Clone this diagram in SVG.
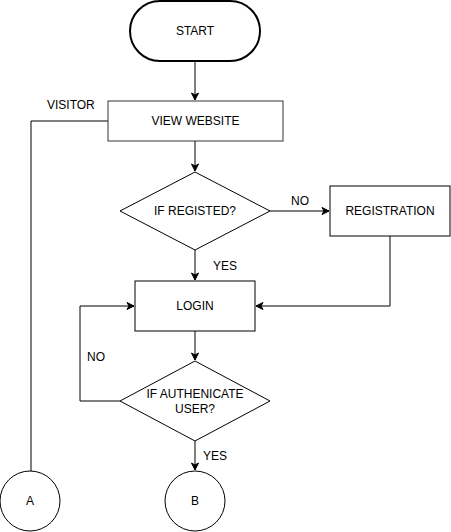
<svg xmlns="http://www.w3.org/2000/svg" width="451" height="532" viewBox="0 0 451 532">
<style>
.n{fill:#fff;stroke:#000;stroke-width:1}
.t{font-family:"Liberation Sans",Arial,sans-serif;font-size:12px;fill:#000;text-anchor:middle;dominant-baseline:central}
.l{font-family:"Liberation Sans",Arial,sans-serif;font-size:12px;fill:#000;dominant-baseline:central}
.c{fill:none;stroke:#000;stroke-width:1}
</style>
<defs>
<marker id="a" markerWidth="10" markerHeight="10" refX="8" refY="5" orient="auto" markerUnits="userSpaceOnUse">
<path d="M1,1.5 L8,5 L1,8.5 L3,5 Z" fill="#000" stroke="#000" stroke-width="1"/>
</marker>
</defs>
<rect width="451" height="532" fill="#fff"/>
<g id="connectors">
<path class="c" d="M195,61 V100" marker-end="url(#a)"/>
<path class="c" d="M108,121 H31 V471"/>
<path class="c" d="M195,141 V171" marker-end="url(#a)"/>
<path class="c" d="M270,211 H329" marker-end="url(#a)"/>
<path class="c" d="M195,250 V280" marker-end="url(#a)"/>
<path class="c" d="M390,236 V306 H256" marker-end="url(#a)"/>
<path class="c" d="M195,331 V360" marker-end="url(#a)"/>
<path class="c" d="M120,401 H80 V306 H134" marker-end="url(#a)"/>
<path class="c" d="M195,441 V470" marker-end="url(#a)"/>
<text class="l" x="47" y="105">VISITOR</text>
<text class="l" x="291" y="201">NO</text>
<text class="l" x="213" y="266">YES</text>
<text class="l" x="87" y="357">NO</text>
<text class="l" x="203" y="456">YES</text>
</g>
<g id="start">
<rect class="n" x="130" y="1" width="130" height="60" rx="30" ry="30" style="stroke-width:2"/>
<text class="t" x="195" y="31">START</text>
</g>
<g id="view-website">
<rect class="n" x="108" y="101" width="175" height="40" style="stroke:#333"/>
<text class="t" x="195.5" y="121">VIEW WEBSITE</text>
</g>
<g id="if-registed">
<polygon class="n" points="195,172 270,211 195,250 120,211"/>
<text class="t" x="195" y="211">IF REGISTED?</text>
</g>
<g id="registration">
<rect class="n" x="330" y="186" width="120" height="50"/>
<text class="t" x="390" y="211">REGISTRATION</text>
</g>
<g id="login">
<rect class="n" x="135" y="281" width="120" height="50"/>
<text class="t" x="195" y="306">LOGIN</text>
</g>
<g id="if-authenticate">
<polygon class="n" points="195,361 270,401 195,441 120,401"/>
<text class="t" x="195" y="394">IF AUTHENICATE</text>
<text class="t" x="195" y="409">USER?</text>
</g>
<g id="a-node">
<circle class="n" cx="30" cy="501" r="30"/>
<text class="t" x="30" y="501">A</text>
</g>
<g id="b-node">
<circle class="n" cx="195" cy="501" r="30"/>
<text class="t" x="195" y="501">B</text>
</g>
</svg>
